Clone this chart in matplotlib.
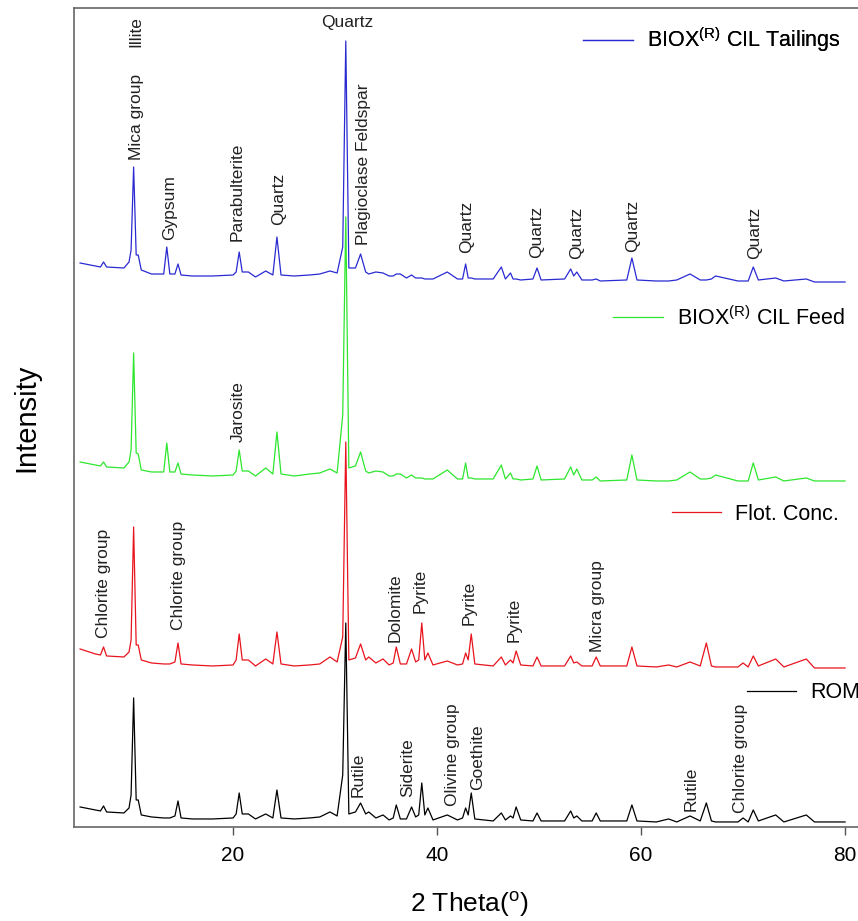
import matplotlib
matplotlib.use('Agg')
import matplotlib.pyplot as plt

plt.rcParams['font.family'] = ['Liberation Sans', 'DejaVu Sans']
plt.rcParams['mathtext.fontset'] = 'custom'
plt.rcParams['mathtext.rm'] = 'Liberation Sans'
plt.rcParams['mathtext.it'] = 'Liberation Sans:italic'

# 2 theta positions (deg) of the pattern vertices, shared by all samples
two_theta = [
    5.0, 6.5, 7.0, 7.3, 7.6, 9.3, 9.8, 10.0, 10.25, 10.5, 10.7, 11.0, 12.0,
    13.2, 13.5, 13.8, 14.3, 14.6, 14.9, 16.0, 18.0, 20.0, 20.3, 20.6, 20.9,
    21.5, 22.2, 23.2, 23.9, 24.3, 24.7, 26.0, 27.5, 28.5, 29.5, 30.2, 30.75,
    31.05, 31.35, 32.0, 32.5, 33.0, 33.3, 34.0, 34.7, 35.3, 35.7, 36.0, 36.4,
    37.0, 37.5, 37.9, 38.2, 38.5, 38.8, 39.1, 39.6, 41.0, 42.0, 42.5, 42.8,
    43.05, 43.35, 43.7, 45.5, 46.3, 46.7, 47.2, 47.45, 47.75, 48.2, 49.4,
    49.8, 50.2, 52.5, 53.1, 53.4, 53.7, 54.2, 55.2, 55.6, 56.0, 58.6, 59.1,
    59.6, 61.5, 62.7, 63.5, 64.8, 65.8, 66.4, 66.9, 67.3, 69.5, 70.0, 70.5,
    71.0, 71.5, 73.2, 74.0, 76.2, 77.0, 80.0,
]

# stacked intensities (a.u.)
rom = [
    20, 17, 16, 21, 15, 14, 19, 32, 129, 27, 27, 12, 10,
    9, 9, 9, 11, 26, 9, 8, 8, 9, 13, 34, 13,
    13, 8, 13, 9, 37, 9, 8, 9, 10, 15, 11, 52,
    204, 13, 15, 24, 13, 15, 9, 12, 7, 9, 22, 8,
    8, 20, 10, 12, 44, 12, 19, 7, 12, 7, 9, 19,
    12, 34, 8, 6, 14, 7, 11, 9, 20, 7, 6,
    14, 6, 6, 16, 9, 11, 6, 6, 14, 6, 6, 22,
    6, 5, 8, 5, 11, 6, 24, 6, 5, 5, 9, 5,
    17, 6, 12, 5, 12, 5, 5,
]
flot_conc = [
    178, 173, 172, 180, 171, 170, 175, 187, 300, 182, 182, 167, 164,
    163, 163, 163, 165, 184, 163, 162, 161, 162, 167, 193, 167,
    167, 161, 168, 163, 195, 163, 161, 162, 163, 170, 165, 190,
    385, 167, 169, 183, 167, 170, 164, 168, 162, 164, 180, 163,
    163, 178, 165, 167, 204, 167, 174, 162, 166, 162, 163, 174,
    167, 193, 163, 161, 170, 162, 167, 164, 176, 162, 161,
    170, 161, 161, 171, 164, 165, 161, 161, 170, 161, 161, 180,
    161, 160, 162, 160, 165, 161, 184, 161, 160, 160, 164, 160,
    171, 161, 168, 160, 168, 159, 159,
]
cil_feed = [
    365, 362, 361, 365, 360, 359, 365, 377, 474, 374, 373, 357, 355,
    355, 384, 355, 355, 364, 353, 352, 351, 352, 356, 377, 356,
    356, 351, 359, 353, 395, 353, 351, 353, 354, 358, 354, 412,
    610, 359, 361, 375, 356, 354, 356, 355, 351, 351, 353, 353,
    349, 352, 349, 349, 349, 348, 348, 348, 357, 348, 348, 364,
    349, 349, 348, 348, 362, 348, 354, 348, 348, 347, 348,
    361, 347, 348, 360, 352, 358, 347, 347, 350, 346, 347, 372,
    347, 346, 346, 347, 355, 348, 348, 349, 352, 346, 346, 346,
    364, 347, 350, 346, 349, 346, 346,
]
cil_tailings = [
    564, 561, 560, 565, 560, 559, 565, 577, 660, 572, 572, 557, 553,
    553, 580, 553, 553, 563, 552, 551, 551, 552, 555, 575, 555,
    555, 550, 556, 552, 590, 552, 551, 552, 553, 556, 554, 580,
    786, 559, 559, 573, 555, 553, 555, 554, 551, 551, 553, 553,
    549, 552, 549, 549, 549, 548, 548, 548, 555, 548, 548, 563,
    549, 549, 548, 548, 560, 548, 554, 548, 548, 547, 548,
    559, 547, 548, 558, 551, 555, 547, 547, 548, 546, 547, 569,
    547, 546, 546, 547, 553, 547, 547, 548, 551, 546, 546, 546,
    560, 547, 549, 546, 548, 545, 545,
]

samples = ['ROM', 'Flot. Conc.', 'BIOX$^{\\rm (R)}$ CIL Feed',
           'BIOX$^{\\rm (R)}$ CIL Tailings']
colors = ['black', '#e8141e', '#2ee62e', '#2a2ad2']

# phase labels: (text, 2theta, intensity at label bottom)
phase_labels = [
    ('Illite', 10.49, 780), ('Mica group', 10.49, 667), ('Gypsum', 13.82, 587),
    ('Parabulterite', 20.39, 586), ('Quartz', 24.51, 602),
    ('Plagioclase Feldspar', 32.75, 582), ('Quartz', 42.94, 574),
    ('Quartz', 49.8, 569), ('Quartz', 53.73, 568), ('Quartz', 59.22, 575),
    ('Quartz', 71.18, 568),
    ('Jarosite', 20.49, 385),
    ('Chlorite group', 7.25, 189), ('Chlorite group', 14.61, 197),
    ('Dolomite', 35.88, 185), ('Pyrite', 38.33, 214), ('Pyrite', 43.14, 202),
    ('Pyrite', 47.55, 185), ('Micra group', 55.69, 175),
    ('Rutile', 32.25, 30), ('Siderite', 37.16, 30), ('Olivine group', 41.47, 21),
    ('Goethite', 44.02, 37), ('Rutile', 64.9, 16), ('Chlorite group', 69.71, 14),
]

# legend anchor per sample (figure fraction)
legend_anchor = [(0.8706, 0.2476), (0.7832, 0.4419), (0.7145, 0.6547),
                 (0.6795, 0.9566)]

fig = plt.figure(figsize=(8.58, 9.21), dpi=100)
ax = fig.add_axes([0.0862, 0.1021, 0.9225, 0.8892])

lines = []
for vals, c in zip([rom, flot_conc, cil_feed, cil_tailings], colors):
    ln, = ax.plot(two_theta, vals, color=c, lw=0.9)
    lines.append(ln)

for txt, x, y in phase_labels:
    ax.text(x, y, txt, rotation=90, ha='center', va='bottom', fontsize=12.5,
            color='#222222')
ax.text(31.18, 805, 'Quartz', ha='center', va='center', fontsize=12.5,
        color='#222222')

for ln, name, anc in zip(lines, samples, legend_anchor):
    leg = ax.legend([ln], [name], loc='center left', bbox_to_anchor=anc,
                    bbox_transform=fig.transFigure, frameon=False,
                    fontsize=15.5, handlelength=2.3, handletextpad=0.65,
                    borderpad=0, borderaxespad=0)
    ax.add_artist(leg)

ax.set_xlim(4.4, 82)
ax.set_ylim(0, 819)
ax.set_xticks([20, 40, 60, 80])
ax.set_yticks([])
ax.tick_params(axis='x', labelsize=15, length=6, width=1, color='#555555',
               pad=8)
for s in ['left', 'bottom', 'top', 'right']:
    ax.spines[s].set_color('#666666')
    ax.spines[s].set_linewidth(1.2)

ax.set_xlabel('2 Theta($^{\\rm o}$)', fontsize=19, labelpad=18)
ax.set_ylabel('Intensity', fontsize=21, labelpad=24)

fig.savefig('out.png', dpi=100)
